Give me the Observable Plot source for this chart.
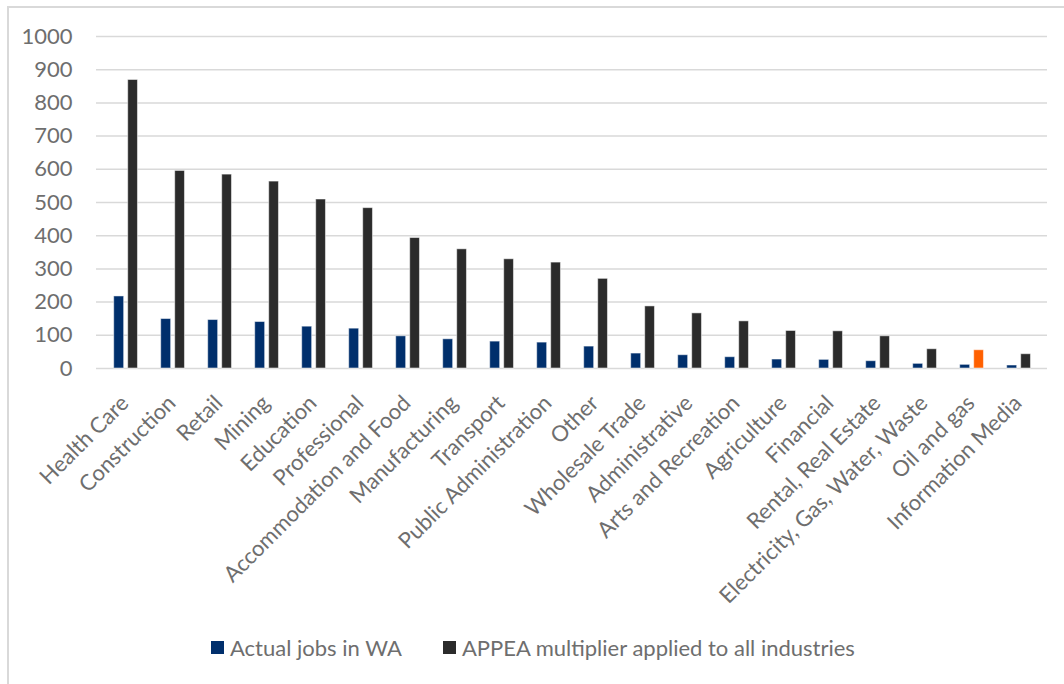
<!DOCTYPE html>
<html>
<head>
<meta charset="utf-8">
<script src="https://cdn.jsdelivr.net/npm/d3@7"></script>
<script src="https://cdn.jsdelivr.net/npm/@observablehq/plot@0.6"></script>
<style>
  html, body { margin: 0; padding: 0; background: #fff; }
  #wrap { position: relative; width: 1064px; height: 684px; overflow: hidden; font-family: Lato, "Open Sans", sans-serif; }
  #borderTop { position: absolute; left: 7px; top: 6px; width: 1057px; height: 2px; background: #d9d9d9; }
  #borderLeft { position: absolute; left: 7px; top: 6px; width: 2px; height: 678px; background: #d9d9d9; }
  #chart { position: absolute; left: 0; top: 0; }
  #legend { position: absolute; left: 211px; top: 634px; display: flex; align-items: center; gap: 41px; font-size: 22px; color: #6e6e6e; }
  .item { display: flex; align-items: center; }
  .sw { width: 13px; height: 13px; margin-right: 6px; }
</style>
</head>
<body>
<div id="wrap">
  <div id="borderTop"></div>
  <div id="borderLeft"></div>
  <div id="chart"></div>
  <div id="legend"></div>
</div>
<script>
const categories = ["Health Care", "Construction", "Retail", "Mining", "Education", "Professional",
  "Accommodation and Food", "Manufacturing", "Transport", "Public Administration", "Other",
  "Wholesale Trade", "Administrative", "Arts and Recreation", "Agriculture", "Financial",
  "Rental, Real Estate", "Electricity, Gas, Water, Waste", "Oil and gas", "Information Media"];
const actualJobs = [217, 149, 146, 140, 126, 120, 97, 88, 81, 78, 66, 45, 40, 34, 27, 26, 22, 14, 11, 9];
const appeaMultiplier = [869, 595, 584, 563, 509, 483, 393, 359, 329, 319, 270, 187, 166, 142, 113, 112, 97, 58, 55, 43];
const yTicks = [0, 100, 200, 300, 400, 500, 600, 700, 800, 900, 1000];
const seriesNames = ["Actual jobs in WA", "APPEA multiplier applied to all industries"];
const seriesColors = ["#002f6c", "#2b2b2b"];
const highlightCategory = "Oil and gas";
const highlightColor = "#ff6000";

const rows = categories.map((c, i) => ({category: c, actual: actualJobs[i], appea: appeaMultiplier[i]}));

const chart = Plot.plot({
  width: 1064,
  height: 625,
  marginLeft: 96,
  marginRight: 17,
  marginTop: 36,
  marginBottom: 257,
  style: {fontFamily: "Lato, 'Open Sans', sans-serif", fontSize: "22px", color: "#6e6e6e", background: "transparent", overflow: "visible"},
  x: {domain: categories, padding: 0, axis: null},
  y: {domain: [0, 1000], ticks: yTicks, tickFormat: d3.format("d"), tickSize: 0, tickPadding: 24, label: null},
  color: {type: "identity"},
  marks: [
    Plot.ruleY(yTicks, {stroke: "#d9d9d9", strokeWidth: 1.5}),
    Plot.barY(rows, {x: "category", y: "actual", fill: seriesColors[0], stroke: "white", strokeOpacity: 0.5, strokeWidth: 1, insetLeft: 11.7, insetRight: 25.35}),
    Plot.barY(rows, {x: "category", y: "appea", fill: d => d.category === highlightCategory ? highlightColor : seriesColors[1], stroke: "white", strokeOpacity: 0.5, strokeWidth: 1, insetLeft: 25.7, insetRight: 11.55}),
    Plot.text(categories, {x: d => d, frameAnchor: "bottom", rotate: -45, textAnchor: "end", lineAnchor: "middle", dx: -1, dy: 31, fill: "#6e6e6e", fontSize: 22})
  ]
});
document.getElementById("chart").appendChild(chart);

const legend = d3.select("#legend");
seriesNames.forEach((name, i) => {
  const item = legend.append("div").attr("class", "item");
  item.append("div").attr("class", "sw").style("background", seriesColors[i]);
  item.append("span").text(name);
});
</script>
</body>
</html>
